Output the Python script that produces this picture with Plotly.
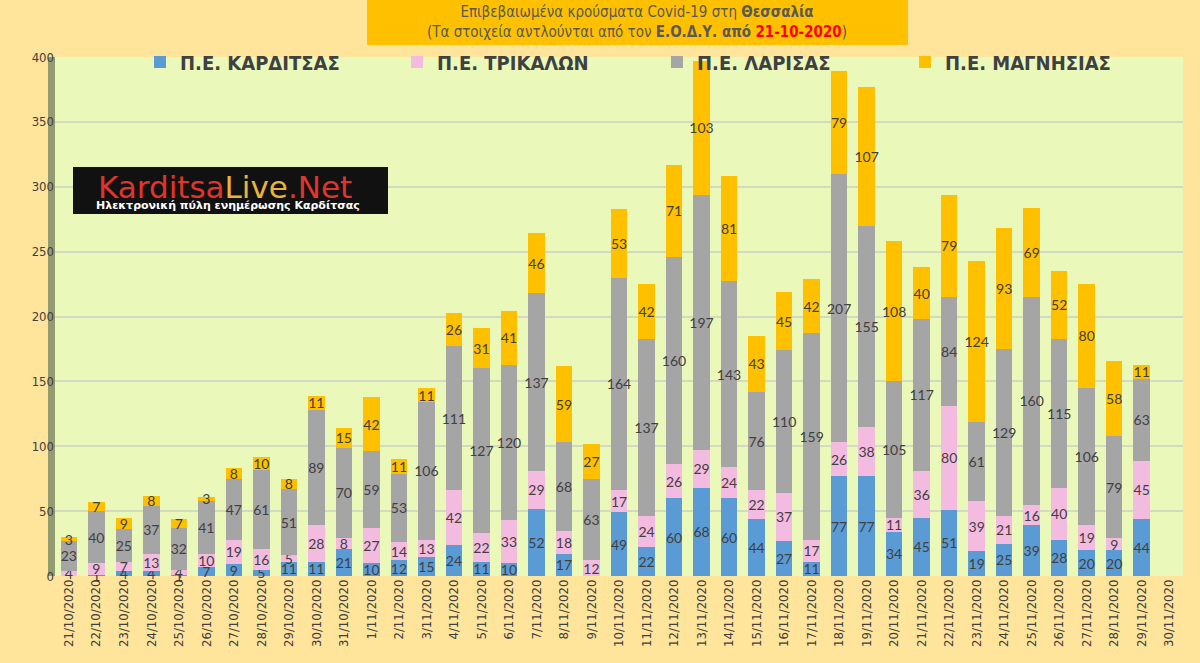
import plotly.graph_objs as go

dates = ['21/10/2020', '22/10/2020', '23/10/2020', '24/10/2020', '25/10/2020', '26/10/2020',
         '27/10/2020', '28/10/2020', '29/10/2020', '30/10/2020', '31/10/2020', '1/11/2020',
         '2/11/2020', '3/11/2020', '4/11/2020', '5/11/2020', '6/11/2020', '7/11/2020',
         '8/11/2020', '9/11/2020', '10/11/2020', '11/11/2020', '12/11/2020', '13/11/2020',
         '14/11/2020', '15/11/2020', '16/11/2020', '17/11/2020', '18/11/2020', '19/11/2020',
         '20/11/2020', '21/11/2020', '22/11/2020', '23/11/2020', '24/11/2020', '25/11/2020',
         '26/11/2020', '27/11/2020', '28/11/2020', '29/11/2020', '30/11/2020']

karditsa = [0, 1, 4, 4, 1, 7, 9, 5, 11, 11, 21, 10, 12, 15, 24, 11, 10, 52, 17, 0, 49, 22, 60, 68,
            60, 44, 27, 11, 77, 77, 34, 45, 51, 19, 25, 39, 28, 20, 20, 44, None]
trikala = [4, 9, 7, 13, 4, 10, 19, 16, 5, 28, 8, 27, 14, 13, 42, 22, 33, 29, 18, 12, 17, 24, 26, 29,
           24, 22, 37, 17, 26, 38, 11, 36, 80, 39, 21, 16, 40, 19, 9, 45, None]
larisa = [23, 40, 25, 37, 32, 41, 47, 61, 51, 89, 70, 59, 53, 106, 111, 127, 120, 137, 68, 63, 164,
          137, 160, 197, 143, 76, 110, 159, 207, 155, 105, 117, 84, 61, 129, 160, 115, 106, 79, 63, None]
magnisia = [3, 7, 9, 8, 7, 3, 8, 10, 8, 11, 15, 42, 11, 11, 26, 31, 41, 46, 59, 27, 53, 42, 71, 103,
            81, 43, 45, 42, 79, 107, 108, 40, 79, 124, 93, 69, 52, 80, 58, 11, None]

series = [('Π.Ε. ΚΑΡΔΙΤΣΑΣ', karditsa, '#5B9BD5'),
          ('Π.Ε. ΤΡΙΚΑΛΩΝ', trikala, '#F4BBE0'),
          ('Π.Ε. ΛΑΡΙΣΑΣ', larisa, '#A5A5A5'),
          ('Π.Ε. ΜΑΓΝΗΣΙΑΣ', magnisia, '#FFC000')]

NARROW = 'DejaVu Sans Condensed, Liberation Sans, sans-serif'

# plot area in pixels: x 55..1183, y 57..576
def px(x):
    return (x - 55) / 1128

def py(y):
    return (576 - y) / 519

fig = go.Figure()
legend_ids = ['legend', 'legend2', 'legend3', 'legend4']
for (name, vals, col), lid in zip(series, legend_ids):
    fig.add_trace(go.Bar(
        x=dates, y=vals, name=name, legend=lid, showlegend=True,
        marker=dict(color=col, line=dict(width=0)),
        text=[('' if v is None else str(v)) for v in vals],
        textposition='inside', insidetextanchor='middle', textangle=0,
        textfont=dict(family='Lato', size=14, color='#404040'),
        cliponaxis=False))

shapes = [
    # title box
    dict(type='rect', xref='paper', yref='paper', x0=px(367), x1=px(908), y0=py(45), y1=py(0),
         fillcolor='#FFC000', line=dict(width=0), layer='above'),
    # left wall
    dict(type='rect', xref='paper', yref='paper', x0=px(48), x1=px(55), y0=0, y1=1,
         fillcolor='#939C70', line=dict(width=0), layer='below'),
    # logo
    dict(type='rect', xref='paper', yref='paper', x0=px(73), x1=px(388), y0=py(214), y1=py(167),
         fillcolor='#111111', line=dict(width=0), layer='above'),
]

annotations = [
    dict(xref='paper', yref='paper', x=px(637), y=py(22), xanchor='center', yanchor='middle',
         showarrow=False,
         text="Επιβεβαιωμένα κρούσματα Covid-19 στη <b>Θεσσαλία</b><br>"
              "(Τα στοιχεία αντλούνται από τον <b>Ε.Ο.Δ.Υ. από</b> "
              "<b><span style='color:#FF0000'>21-10-2020</span></b>)",
         font=dict(family=NARROW, size=15, color='#595959'), align='center'),
    dict(xref='paper', yref='paper', x=px(225), y=py(187), xanchor='center', yanchor='middle',
         showarrow=False,
         text="<span style='color:#E0352B'>Karditsa</span><span style='color:#E8B43A'>Live</span>"
              "<span style='color:#E0352B'>.Net</span>",
         font=dict(family='DejaVu Sans', size=31)),
    dict(xref='paper', yref='paper', x=px(228), y=py(206), xanchor='center', yanchor='middle',
         showarrow=False,
         text="<b>Ηλεκτρονική πύλη ενημέρωσης Καρδίτσας</b>",
         font=dict(family='DejaVu Sans', size=11, color='#FFFFFF')),
]

legend_x = [140, 397, 657, 905]


def legend_box(x):
    return dict(orientation='h', x=px(x), y=py(62), yanchor='middle', xanchor='left',
                bgcolor='rgba(0,0,0,0)', itemwidth=30, visible=True,
                font=dict(family=NARROW, size=20, color='#404040', weight='bold'))


fig.update_layout(
    width=1200, height=663,
    barmode='stack', bargap=0.4, showlegend=True,
    paper_bgcolor='#FFE49B', plot_bgcolor='#EAF8BA',
    margin=dict(l=55, r=17, t=57, b=87, autoexpand=False),
    font=dict(family=NARROW, color='#404040'),
    uniformtext=dict(minsize=14, mode='show'),
    legend=legend_box(legend_x[0]),
    legend2=legend_box(legend_x[1]),
    legend3=legend_box(legend_x[2]),
    legend4=legend_box(legend_x[3]),
    xaxis=dict(tickangle=-90, tickfont=dict(size=13, color='#404040'), showgrid=False,
               showline=False, ticks='', categoryorder='array', categoryarray=dates,
               range=[-0.5, 40.5]),
    yaxis=dict(range=[0, 400], dtick=50, gridcolor='#D3DABF', gridwidth=2, zeroline=False,
               tickfont=dict(size=13, color='#404040'), ticks='', showline=False),
    shapes=shapes, annotations=annotations,
)

fig.write_html("out.html", config={'displayModeBar': False},
               post_script="document.body.style.margin='0';"
                           "document.body.style.background='#FFE49B';")
